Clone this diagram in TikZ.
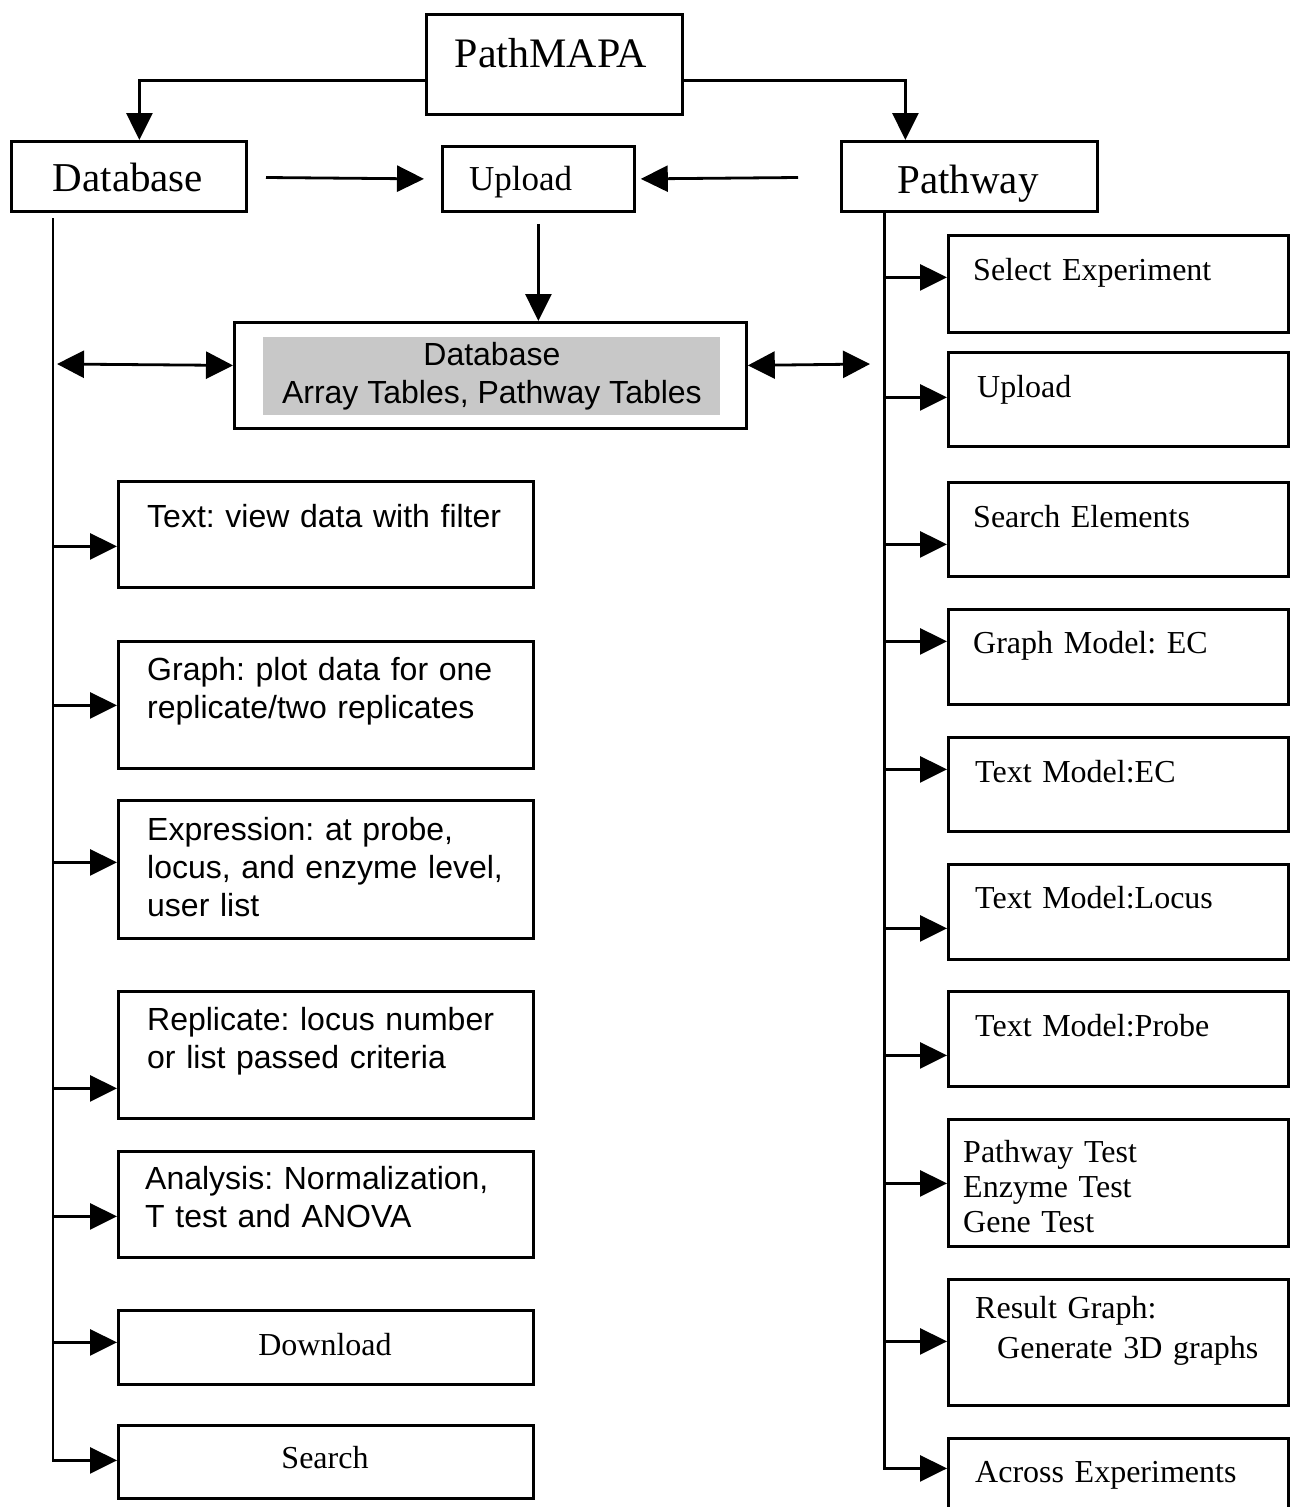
\documentclass[tikz,border=0pt]{standalone}
\usepackage{fontspec}
\setmainfont{Liberation Serif}
\setsansfont{Liberation Sans}
\usetikzlibrary{arrows.meta,calc}
\definecolor{dbgray}{RGB}{200,200,200}
\frenchspacing
\tikzset{
    box/.style = {draw, line width=2.8pt, inner sep=0pt, anchor=north west},
    lbox/.style = {box, minimum width=415pt},
    rbox/.style = {box, minimum width=340pt},
    link/.style = {line width=2.8pt, -{Triangle[length=27pt, width=26pt]}},
    twoway/.style = {line width=2.8pt, {Triangle[length=27pt, width=27pt]}-{Triangle[length=27pt, width=27pt]}},
    rmlbl/.style = {inner sep=0pt, font=\fontsize{32}{37}\selectfont, text width=320pt, align=left, anchor=base west},
    sflbl/.style = {inner sep=0pt, font=\sffamily\fontsize{32}{38}\selectfont, text width=390pt, align=left, anchor=base west},
    head/.style = {inner sep=0pt, anchor=base},
}
\begin{document}
\begin{tikzpicture}[x=1pt, y=-1pt]
    \useasboundingbox[fill=white] (0,0) rectangle (1291,1507);

    \node[box, minimum width=256pt, minimum height=100pt] (pathmapa) at (425,13) {};
    \node[box, minimum width=235pt, minimum height=70pt] (database) at (10,140) {};
    \node[box, minimum width=192pt, minimum height=65pt] (upload) at (441,145) {};
    \node[box, minimum width=256pt, minimum height=70pt] (pathway) at (840,140) {};
    \node[head, font=\fontsize{42}{48}\selectfont] (pathmapa-text) at (551,67) {PathMAPA};
    \node[head, font=\fontsize{41}{48}\selectfont] (database-text) at (128,191) {Database};
    \node[head, font=\fontsize{35}{42}\selectfont, anchor=base west] (upload-text) at (469,190) {Upload};
    \node[head, font=\fontsize{41}{48}\selectfont] (pathway-text) at (968,193) {Pathway};

    \node[box, minimum width=512pt, minimum height=106pt] (dbcore) at (233,321) {};
    \node[box, draw=none, fill=dbgray, minimum width=457pt, minimum height=78pt,
        font=\sffamily\fontsize{32}{38}\selectfont, align=center] (dbtables) at (262,336)
        {Database\\Array Tables, Pathway Tables};

    \begin{scope}[every node/.append style={lbox}]
    \node[minimum height=106pt] (tview) at (117,480) {};
    \node[minimum height=127pt] (tgraph) at (117,640) {};
    \node[minimum height=138pt] (texpr) at (117,799) {};
    \node[minimum height=127pt] (trepl) at (117,990) {};
    \node[minimum height=106pt] (tanal) at (117,1150) {};
    \node[minimum height=74pt] (tdown) at (117,1309) {};
    \node[minimum height=73pt] (tsearch) at (117,1424) {};
    \end{scope}
    \node[sflbl] (tview-text) at (147,527) {Text: view data with filter};
    \node[sflbl] (tgraph-text) at (147,680) {Graph: plot data for one\\replicate/two replicates};
    \node[sflbl] (texpr-text) at (147,840) {Expression: at probe,\\locus, and enzyme level,\\user list};
    \node[sflbl] (trepl-text) at (147,1030) {Replicate: locus number\\or list passed criteria};
    \node[sflbl] (tanal-text) at (145,1189) {Analysis: Normalization,\\T test and ANOVA};
    \node[head, font=\fontsize{32}{37}\selectfont] (tdown-text) at (325,1355) {Download};
    \node[head, font=\fontsize{32}{37}\selectfont] (tsearch-text) at (325,1468) {Search};

    \begin{scope}[every node/.append style={rbox}]
    \node[minimum height=97pt] (pselect) at (947,234) {};
    \node[minimum height=94pt] (pupload) at (947,351) {};
    \node[minimum height=94pt] (psearch) at (947,481) {};
    \node[minimum height=95pt] (pgraph) at (947,608) {};
    \node[minimum height=94pt] (ptextec) at (947,736) {};
    \node[minimum height=95pt] (plocus) at (947,863) {};
    \node[minimum height=95pt] (pprobe) at (947,990) {};
    \node[minimum height=127pt] (ptests) at (947,1118) {};
    \node[minimum height=126pt] (presult) at (947,1278) {};
    \node[minimum height=100pt] (pacross) at (947,1437) {};
    \end{scope}
    \node[rmlbl] (pselect-text) at (973,280) {Select Experiment};
    \node[rmlbl] (pupload-text) at (977,397) {Upload};
    \node[rmlbl] (psearch-text) at (973,527) {Search Elements};
    \node[rmlbl] (pgraph-text) at (973,653) {Graph Model: EC};
    \node[rmlbl] (ptextec-text) at (975,782) {Text Model:EC};
    \node[rmlbl] (plocus-text) at (975,908) {Text Model:Locus};
    \node[rmlbl] (pprobe-text) at (975,1036) {Text Model:Probe};
    \node[rmlbl, font=\fontsize{32}{35}\selectfont] (ptests-text) at (963,1162) {Pathway Test\\Enzyme Test\\Gene Test};
    \node[rmlbl, font=\fontsize{32}{40}\selectfont] (presult-text) at (975,1318) {Result Graph:\\\hspace*{22pt}Generate 3D graphs};
    \node[rmlbl] (pacross-text) at (975,1482) {Across Experiments};

    \draw[link] ($(pathmapa.west)+(0,16)$) -| ($(database.north)+(10.5,0)$);
    \draw[link] ($(pathmapa.east)+(0,16)$) -| ($(pathway.north)+(-64,0)$);
    \coordinate (dbfeed) at (266,177.5);
    \coordinate (pwfeed) at (798,177.5);
    \draw[link] (dbfeed) -- ($(upload.west)+(-17,0)$);
    \draw[link] (pwfeed) -- ($(upload.east)+(5,0)$);
    \draw[link] ($(upload.south)+(0,11)$) -- (dbcore.north -| upload.south);

    \coordinate (lhub) at (57,364);
    \coordinate (rhub) at (870,364);
    \draw[twoway] (lhub) -- ($(dbcore.west)+(0,-10)$);
    \draw[twoway] ($(dbcore.east)+(0,-10)$) -- (rhub);

    \coordinate (ltop) at (53,218);
    \draw[link] (ltop) |- ($(tsearch.west)+(0,-1.5)$);
    \draw[link] ($(tview.west)+(-64,12)$) -- ($(tview.west)+(0,12)$);
    \draw[link] ($(tgraph.west)+(-64,0.5)$) -- ($(tgraph.west)+(0,0.5)$);
    \draw[link] ($(texpr.west)+(-64,-7)$) -- ($(texpr.west)+(0,-7)$);
    \draw[link] ($(trepl.west)+(-64,33.5)$) -- ($(trepl.west)+(0,33.5)$);
    \draw[link] ($(tanal.west)+(-64,12)$) -- ($(tanal.west)+(0,12)$);
    \draw[link] ($(tdown.west)+(-64,-5)$) -- ($(tdown.west)+(0,-5)$);

    \draw[link] ($(pathway.south)+(-85,0)$) |- ($(pacross.west)+(0,-20)$);
    \draw[link] ($(pselect.west)+(-64,-6.5)$) -- ($(pselect.west)+(0,-6.5)$);
    \draw[link] ($(pupload.west)+(-64,-2)$) -- ($(pupload.west)+(0,-2)$);
    \draw[link] ($(psearch.west)+(-64,15)$) -- ($(psearch.west)+(0,15)$);
    \draw[link] ($(pgraph.west)+(-64,-15.5)$) -- ($(pgraph.west)+(0,-15.5)$);
    \draw[link] ($(ptextec.west)+(-64,-15)$) -- ($(ptextec.west)+(0,-15)$);
    \draw[link] ($(plocus.west)+(-64,16.5)$) -- ($(plocus.west)+(0,16.5)$);
    \draw[link] ($(pprobe.west)+(-64,16.5)$) -- ($(pprobe.west)+(0,16.5)$);
    \draw[link] ($(ptests.west)+(-64,0.5)$) -- ($(ptests.west)+(0,0.5)$);
    \draw[link] ($(presult.west)+(-64,-1)$) -- ($(presult.west)+(0,-1)$);
\end{tikzpicture}
\end{document}
